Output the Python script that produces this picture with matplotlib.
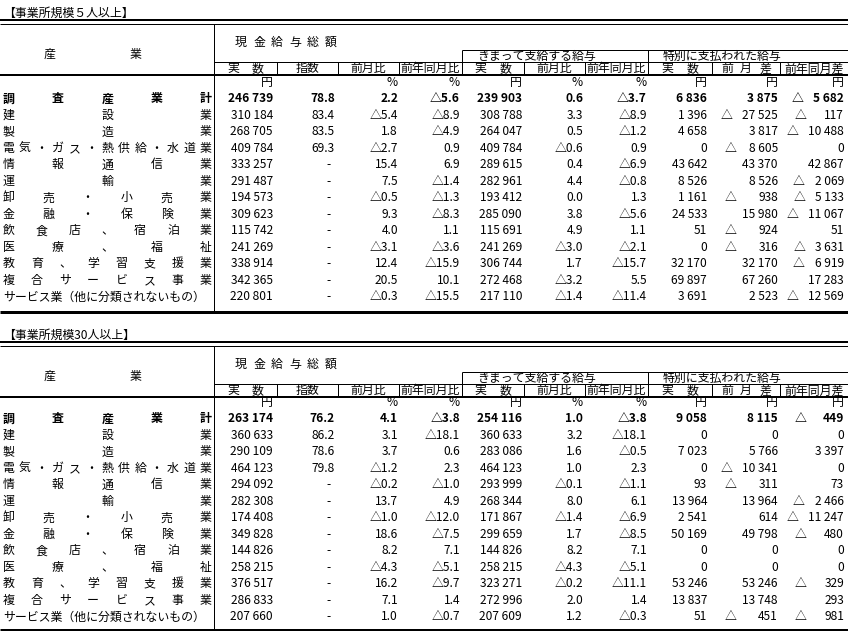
import matplotlib.pyplot as plt

plt.rcParams['font.family'] = ['Noto Sans CJK JP', 'DejaVu Sans']

industries = ['調査産業計', '建設業', '製造業', '電気・ガス・熱供給・水道業', '情報通信業', '運輸業',
              '卸売・小売業', '金融・保険業', '飲食店、宿泊業', '医療、福祉', '教育、学習支援業',
              '複合サービス事業', 'サービス業（他に分類されないもの）']

# 事業所規模5人以上
cash_total_5 = [246739, 310184, 268705, 409784, 333257, 291487, 194573, 309623, 115742, 241269, 338914, 342365, 220801]
cash_index_5 = [78.8, 83.4, 83.5, 69.3, None, None, None, None, None, None, None, None, None]
cash_mom_5 = [2.2, -5.4, 1.8, -2.7, 15.4, 7.5, -0.5, 9.3, 4.0, -3.1, 12.4, 20.5, -0.3]
cash_yoy_5 = [-5.6, -8.9, -4.9, 0.9, 6.9, -1.4, -1.3, -8.3, 1.1, -3.6, -15.9, 10.1, -15.5]
reg_total_5 = [239903, 308788, 264047, 409784, 289615, 282961, 193412, 285090, 115691, 241269, 306744, 272468, 217110]
reg_mom_5 = [0.6, 3.3, 0.5, -0.6, 0.4, 4.4, 0.0, 3.8, 4.9, -3.0, 1.7, -3.2, -1.4]
reg_yoy_5 = [-3.7, -8.9, -1.2, 0.9, -6.9, -0.8, 1.3, -5.6, 1.1, -2.1, -15.7, 5.5, -11.4]
sp_total_5 = [6836, 1396, 4658, 0, 43642, 8526, 1161, 24533, 51, 0, 32170, 69897, 3691]
sp_mom_5 = [3875, -27525, 3817, -8605, 43370, 8526, -938, 15980, -924, -316, 32170, 67260, 2523]
sp_yoy_5 = [-5682, -117, -10488, 0, 42867, -2069, -5133, -11067, 51, -3631, -6919, 17283, -12569]

# 事業所規模30人以上
cash_total_30 = [263174, 360633, 290109, 464123, 294092, 282308, 174408, 349828, 144826, 258215, 376517, 286833, 207660]
cash_index_30 = [76.2, 86.2, 78.6, 79.8, None, None, None, None, None, None, None, None, None]
cash_mom_30 = [4.1, 3.1, 3.7, -1.2, -0.2, 13.7, -1.0, 18.6, 8.2, -4.3, 16.2, 7.1, 1.0]
cash_yoy_30 = [-3.8, -18.1, 0.6, 2.3, -1.0, 4.9, -12.0, -7.5, 7.1, -5.1, -9.7, 1.4, -0.7]
reg_total_30 = [254116, 360633, 283086, 464123, 293999, 268344, 171867, 299659, 144826, 258215, 323271, 272996, 207609]
reg_mom_30 = [1.0, 3.2, 1.6, 1.0, -0.1, 8.0, -1.4, 1.7, 8.2, -4.3, -0.2, 2.0, 1.2]
reg_yoy_30 = [-3.8, -18.1, -0.5, 2.3, -1.1, 6.1, -6.9, -8.5, 7.1, -5.1, -11.1, 1.4, -0.3]
sp_total_30 = [9058, 0, 7023, 0, 93, 13964, 2541, 50169, 0, 0, 53246, 13837, 51]
sp_mom_30 = [8115, 0, 5766, -10341, -311, 13964, 614, 49798, 0, 0, 53246, 13748, -451]
sp_yoy_30 = [-449, 0, 3397, 0, 73, -2466, -11247, -480, 0, 0, -329, 293, -981]

FS = 8.6
BASE = 4.4
PX = 0.72  # one pixel in points at 100 dpi

col_bounds = [214, 277, 338, 399, 462, 524, 585, 648, 712, 780, 848]
col_right = [273, 335, 398, 460, 522, 583, 647, 707, 778, 844]
col_kind = ['yen', 'index', 'pct', 'pct', 'yen', 'pct', 'pct', 'yen', 'diff', 'diff']
col_unit = ['円', '', '%', '%', '円', '%', '%', '円', '円', '円']
tri_right = {8: 737, 9: 807}

fig = plt.figure(figsize=(8.48, 6.31), dpi=100)
ax = fig.add_axes([0, 0, 1, 1])
ax.set_xlim(0, 848)
ax.set_ylim(631, 0)
ax.axis('off')
renderer = fig.canvas.get_renderer()


def put(x, y, s, ha='left', bold=False):
    return ax.text(x, y + BASE, s, ha=ha, va='baseline', fontsize=FS,
                   fontweight='bold' if bold else 'normal', color='black')


def spaced(chars, xc, y, step):
    n = len(chars)
    for i, c in enumerate(chars):
        put(xc + (i - (n - 1) / 2) * step, y, c, ha='center')


def hline(y, x0, x1, px=1):
    ax.plot([x0, x1], [y, y], color='black', lw=px * PX, solid_capstyle='butt')


def vline(x, y0, y1, px=1):
    ax.plot([x, x], [y0, y1], color='black', lw=px * PX, solid_capstyle='butt')


def yen(v):
    return f'{abs(v):,}'.replace(',', ' ')


def pct(v):
    s = f'{abs(v):.1f}'
    return '△' + s if v < 0 else s


def draw_table(title, columns, h0, b0):
    # header block
    put(3, h0 + 12, title)
    hline(h0 + 20, 0, 848, 2)
    hline(h0 + 23.5, 0, 848, 1)
    spaced('現金給与総額', 286, h0 + 41.7, 18)
    put(49, h0 + 53.3, '産', ha='center')
    put(136, h0 + 53.3, '業', ha='center')
    hline(h0 + 49.5, 462, 848)
    put(477, h0 + 55.5, 'きまって支給する給与')
    put(663, h0 + 55.5, '特別に支払われた給与')
    hline(h0 + 61.5, 214, 848)
    for x in [462, 648]:
        vline(x, h0 + 49.5, h0 + 75)
    for x in [277, 338, 399, 524, 585, 712, 780]:
        vline(x, h0 + 61.5, h0 + 75)
    sy = h0 + 68
    spaced('実数', 245.5, sy, 25)
    put(307.5, sy, '指数', ha='center')
    put(368.5, sy, '前月比', ha='center')
    put(430.5, sy, '前年同月比', ha='center')
    spaced('実数', 493, sy, 25)
    put(554.5, sy, '前月比', ha='center')
    put(616.5, sy, '前年同月比', ha='center')
    spaced('実数', 680, sy, 25)
    spaced('前月差', 746, sy, 19)
    put(814, sy, '前年同月差', ha='center')
    hline(h0 + 75, 0, 848, 2)

    # units row
    for j, u in enumerate(col_unit):
        if u:
            put(col_right[j], b0 + 81.5, u, ha='right')

    # body rows
    n_rows = len(industries)
    for i, name in enumerate(industries):
        y = b0 + 98 + 16.5 * i
        bold = i == 0
        if len(name) <= 13:
            n = len(name)
            for k, c in enumerate(name):
                t = put(8.5 + k * (206 - 8.5) / (n - 1), y, c, ha='center', bold=bold)
        else:
            put(3, y, name, bold=bold)
        for j, vals in enumerate(columns):
            v = vals[i]
            kind = col_kind[j]
            if kind == 'index':
                if v is None:
                    put(331, y, '-', ha='right')
                else:
                    put(col_right[j], y, f'{v:.1f}', ha='right', bold=bold)
            elif kind == 'pct':
                put(col_right[j], y, pct(v), ha='right', bold=bold)
            elif kind == 'yen':
                put(col_right[j], y, yen(v), ha='right', bold=bold)
            else:
                t = put(col_right[j], y, yen(v), ha='right', bold=bold)
                if v < 0:
                    left = t.get_window_extent(renderer).x0
                    put(min(tri_right[j], left - 10), y, '△', ha='right', bold=bold)

    last = b0 + 98 + 16.5 * (n_rows - 1)
    vline(214, h0 + 23.5, min(last + 16, 630))
    hline(min(last + 16, 630), 0, 848, 3)


draw_table('【事業所規模５人以上】',
           [cash_total_5, cash_index_5, cash_mom_5, cash_yoy_5, reg_total_5,
            reg_mom_5, reg_yoy_5, sp_total_5, sp_mom_5, sp_yoy_5], 0, 0)
draw_table('【事業所規模30人以上】',
           [cash_total_30, cash_index_30, cash_mom_30, cash_yoy_30, reg_total_30,
            reg_mom_30, reg_yoy_30, sp_total_30, sp_mom_30, sp_yoy_30], 322, 320)

fig.savefig('out.png', dpi=100, facecolor='white')
